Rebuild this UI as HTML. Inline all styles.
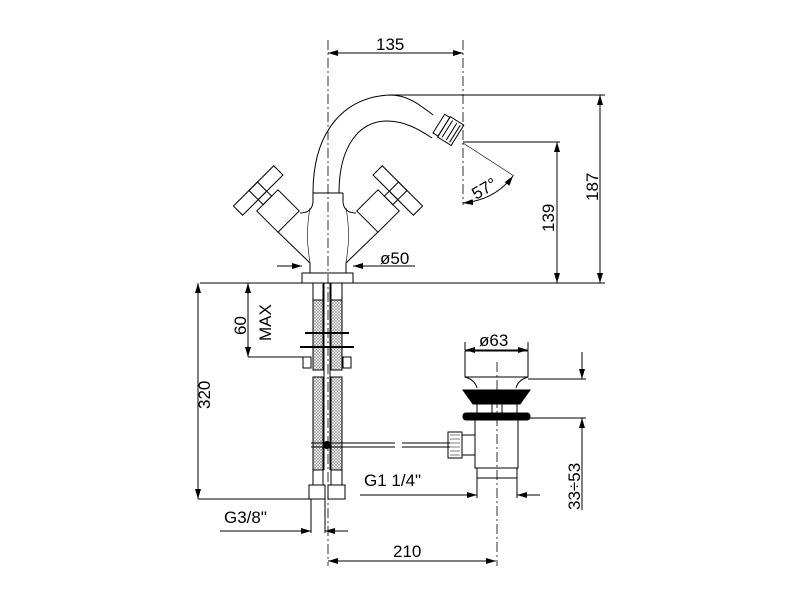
<!DOCTYPE html>
<html><head><meta charset="utf-8"><style>body{margin:0;background:#fff}svg{display:block}text{font-family:"Liberation Sans",sans-serif;fill:#000}</style></head><body>
<svg width="800" height="600" viewBox="0 0 800 600" xmlns="http://www.w3.org/2000/svg">
<defs>
<marker id="a" viewBox="0 0 10 6" refX="10" refY="3" markerWidth="10" markerHeight="6" orient="auto-start-reverse" markerUnits="userSpaceOnUse"><path d="M0,0L10,3L0,6z" fill="#000"/></marker>
<pattern id="h" width="3" height="3" patternUnits="userSpaceOnUse"><path d="M0,0L3,3M3,0L0,3" stroke="#888" stroke-width="0.6"/></pattern>
</defs>
<g fill="none" stroke="#000" stroke-width="1">
<line x1="328" y1="40" x2="328" y2="566" stroke-dasharray="10,3,2,3" stroke-width="0.8"/>
<line x1="463" y1="40" x2="463" y2="205" stroke-dasharray="10,3,2,3" stroke-width="0.8"/>
<line x1="497" y1="362" x2="497" y2="566" stroke-dasharray="10,3,2,3" stroke-width="0.8"/>
<line x1="328" y1="53" x2="463" y2="53" marker-start="url(#a)" marker-end="url(#a)"/>
<line x1="390" y1="95" x2="605" y2="95"/>
<line x1="600" y1="95" x2="600" y2="283" marker-start="url(#a)" marker-end="url(#a)"/>
<line x1="463" y1="142" x2="560" y2="142"/>
<line x1="557" y1="142" x2="557" y2="283" marker-start="url(#a)" marker-end="url(#a)"/>
<line x1="200" y1="283" x2="605" y2="283"/>
<line x1="463" y1="143" x2="514" y2="176" stroke-width="0.6"/>
<path d="M463,203 Q495,200 513,176" marker-start="url(#a)" marker-end="url(#a)"/>
<!-- spout -->
<path d="M313,193 C313,130 345,97 390,95 C408,95 420,105 433,115"/>
<path d="M339,193 C339,145 360,121 387,121 C405,121 420,130 432,138"/>
<g transform="translate(449,130) rotate(32)">
<rect x="-12" y="-11" width="6" height="22"/><rect x="-6" y="-12" width="16" height="24"/>
<line x1="-2" y1="-10" x2="-2" y2="10"/><line x1="3" y1="-10" x2="3" y2="10"/><line x1="7" y1="-10" x2="7" y2="10"/>
</g>
<!-- body -->
<line x1="313" y1="193" x2="343" y2="193"/>
<path d="M313,193 L313,202 Q312,213 300,213"/>
<path d="M343,193 L343,202 Q344,213 356,213"/>
<path d="M310,208 Q305,235 310,262 M346,208 Q351,235 346,262" stroke-width="0.6"/>
<path d="M278,232 L310,263 L310,273"/>
<path d="M378,232 L346,263 L346,273"/>
<!-- left handle -->
<g transform="translate(278,211) rotate(-45)">
<rect x="-15" y="-15" width="30" height="30"/>
<rect x="-6" y="-22" width="12" height="7"/>
<rect x="-28" y="-35" width="57" height="13"/>
<rect x="-6" y="-35" width="12" height="13"/>
</g>
<g transform="translate(378,211) rotate(45)">
<rect x="-15" y="-15" width="30" height="30"/>
<rect x="-6" y="-22" width="12" height="7"/>
<rect x="-29" y="-35" width="57" height="13"/>
<rect x="-6" y="-35" width="12" height="13"/>
</g>
<rect x="302" y="273" width="51" height="10"/>
<line x1="277" y1="266" x2="302" y2="266" marker-end="url(#a)"/>
<line x1="415" y1="266" x2="353" y2="266" marker-end="url(#a)"/>
<!-- pipes -->
<rect x="313" y="300" width="10" height="70" fill="url(#h)"/>
<rect x="331" y="300" width="11" height="70" fill="url(#h)"/>
<rect x="313" y="377" width="10" height="93" fill="url(#h)"/>
<rect x="331" y="377" width="11" height="93" fill="url(#h)"/>
<rect x="313" y="283" width="10" height="17"/><rect x="331" y="283" width="11" height="17"/>
<rect x="313" y="470" width="10" height="15"/><rect x="331" y="470" width="11" height="15"/>
<rect x="309" y="485" width="16" height="14"/><rect x="328" y="485" width="17" height="14"/>
<line x1="324" y1="283" x2="324" y2="470"/><line x1="330" y1="283" x2="330" y2="470"/>
<line x1="305" y1="333" x2="349" y2="333" stroke-width="2"/>
<line x1="300" y1="347" x2="354" y2="347" stroke-width="2"/>
<rect x="303" y="357" width="8" height="11"/><rect x="343" y="357" width="8" height="11"/>
<line x1="311" y1="443" x2="395" y2="443"/><line x1="311" y1="447" x2="395" y2="447"/>
<circle cx="327" cy="445" r="3.5" fill="#000"/>
<!-- 60 MAX -->
<line x1="248" y1="283" x2="248" y2="357" marker-start="url(#a)" marker-end="url(#a)"/>
<line x1="248" y1="357" x2="305" y2="357"/>
<line x1="198" y1="283" x2="198" y2="499" marker-start="url(#a)" marker-end="url(#a)"/>
<line x1="198" y1="499" x2="312" y2="499"/>
<line x1="311" y1="499" x2="311" y2="533"/><line x1="325" y1="499" x2="325" y2="533"/>
<line x1="220" y1="531" x2="311" y2="531" marker-end="url(#a)"/>
<line x1="348" y1="531" x2="325" y2="531" marker-end="url(#a)"/>
<line x1="328" y1="561" x2="496" y2="561" marker-start="url(#a)" marker-end="url(#a)"/>
<!-- drain -->
<line x1="402" y1="443" x2="450" y2="443"/><line x1="402" y1="447" x2="450" y2="447"/>
<rect x="448" y="432" width="14" height="26"/>
<path d="M450,435h10M450,439h10M450,443h10M450,447h10M450,451h10M450,455h10" stroke-width="0.6"/>
<path d="M462,435 L475,435 M462,455 L475,455"/>
<rect x="465" y="351" width="63" height="26"/>
<path d="M465,377 Q475,380 477,388 M528,377 Q518,380 516,388"/>
<path d="M463,390 L530,390 L520,404 L473,404 Z" fill="#000"/>
<rect x="477" y="404" width="40" height="10"/>
<rect x="492" y="403" width="10" height="11"/>
<rect x="463" y="413" width="67" height="7" rx="3" fill="#000"/>
<rect x="475" y="420" width="43" height="48"/>
<rect x="477" y="468" width="40" height="10"/>
<line x1="465" y1="350" x2="465" y2="342"/><line x1="528" y1="350" x2="528" y2="342"/>
<line x1="465" y1="350" x2="528" y2="350" marker-start="url(#a)" marker-end="url(#a)"/>
<line x1="477" y1="478" x2="477" y2="498"/><line x1="517" y1="478" x2="517" y2="498"/>
<line x1="360" y1="495" x2="477" y2="495" marker-end="url(#a)"/>
<line x1="540" y1="495" x2="517" y2="495" marker-end="url(#a)"/>
<line x1="528" y1="379" x2="586" y2="379"/><line x1="530" y1="418" x2="586" y2="418"/>
<line x1="582" y1="352" x2="582" y2="379" marker-end="url(#a)"/>
<line x1="582" y1="510" x2="582" y2="418" marker-end="url(#a)"/>
</g>
<g font-size="17">
<text x="376" y="50">135</text>
<text x="380" y="264">ø50</text>
<text x="479" y="346">ø63</text>
<text x="364" y="486">G1  1/4"</text>
<text x="224" y="523">G3/8"</text>
<text x="393" y="557">210</text>
<text transform="translate(598,201) rotate(-90)">187</text>
<text transform="translate(554,232) rotate(-90)">139</text>
<text transform="translate(210,409) rotate(-90)">320</text>
<text transform="translate(246,335) rotate(-90)">60</text>
<text transform="translate(271,341) rotate(-90)">MAX</text>
<text transform="translate(580,510) rotate(-90)">33÷53</text>
<text transform="translate(476,200) rotate(-30)">57°</text>
</g>
</svg>
</body></html>
